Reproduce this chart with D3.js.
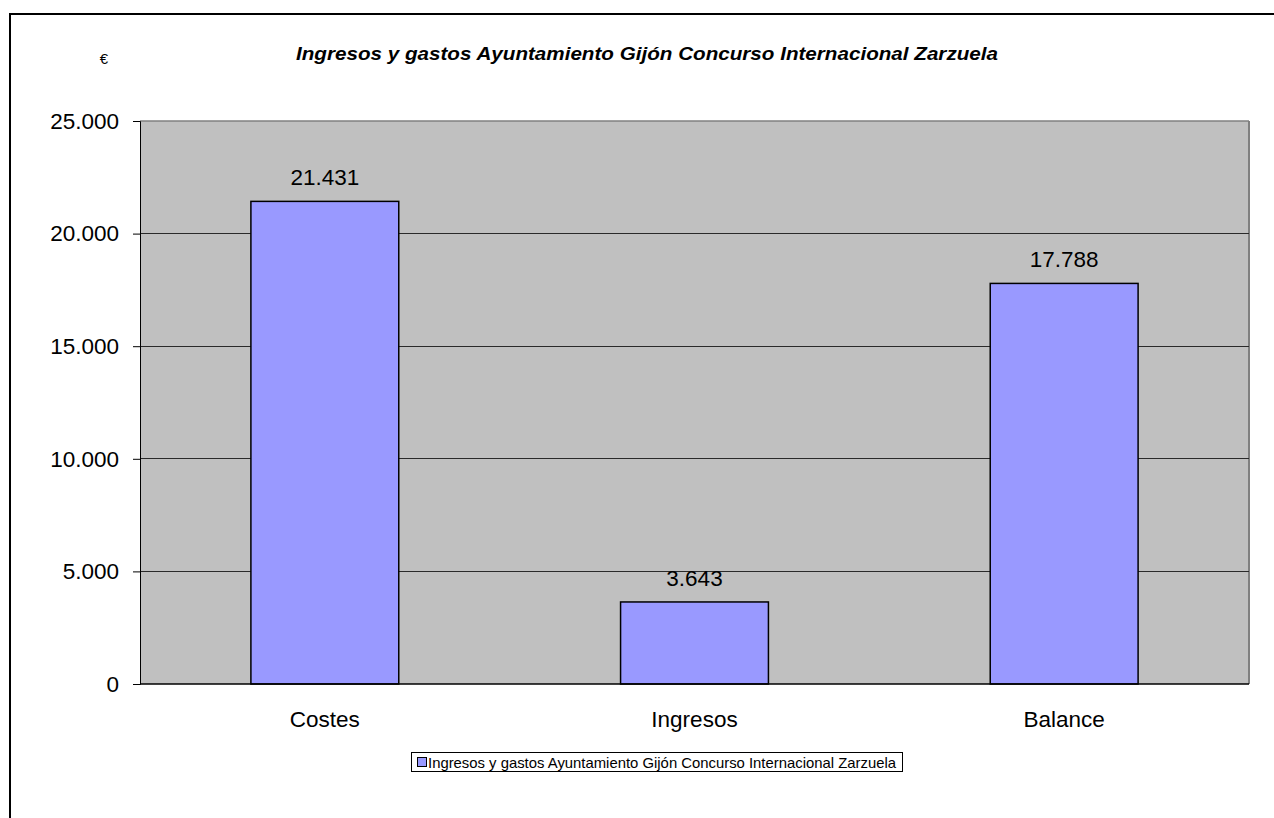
<!DOCTYPE html>
<html><head><meta charset="utf-8">
<script src="https://cdn.jsdelivr.net/npm/d3@7"></script>
<style>body{margin:0;background:#fff}svg{display:block}text{font-family:Arial,"Liberation Sans",sans-serif}</style>
</head><body>
<svg id="c" width="1274" height="818"></svg>
<script>
const categories = ["Costes", "Ingresos", "Balance"];
const values = [21431, 3643, 17788];
const valueLabels = ["21.431", "3.643", "17.788"];
const yTicks = [0, 5000, 10000, 15000, 20000, 25000];
const yTickLabels = ["0", "5.000", "10.000", "15.000", "20.000", "25.000"];
const seriesName = "Ingresos y gastos Ayuntamiento Gijón Concurso Internacional Zarzuela";
const titleText = "Ingresos y gastos Ayuntamiento Gijón Concurso Internacional Zarzuela";
const unitText = "€";

const svg = d3.select("#c");
const L = 140, R = 1249, T = 121, B = 684;

// outer frame
svg.append("rect").attr("x", 10).attr("y", 14).attr("width", 1400).attr("height", 1000)
  .attr("fill", "#fff").attr("stroke", "#000").attr("stroke-width", 2);

const x = d3.scaleBand().domain(categories).range([L, R]).paddingInner(0.6).paddingOuter(0.3);
const y = d3.scaleLinear().domain([0, 25000]).range([B, T]);

// plot area
svg.append("rect").attr("x", L).attr("y", T).attr("width", R - L).attr("height", B - T)
  .attr("fill", "#c0c0c0");
svg.append("path").attr("d", `M${L},${T}H${R}`).attr("stroke", "#808080").attr("stroke-width", 1.5).attr("fill","none");
svg.append("path").attr("d", `M${R},${T}V${B}`).attr("stroke", "#808080").attr("stroke-width", 2).attr("fill","none");

// gridlines
svg.append("g").selectAll("line").data(yTicks.filter(d => d > 0 && d < 25000)).join("line")
  .attr("x1", L).attr("x2", R).attr("y1", d => y(d)).attr("y2", d => y(d))
  .attr("stroke", "#2a2a2a").attr("stroke-width", 1).attr("shape-rendering", "crispEdges");

// y axis
const yAxis = d3.axisLeft(y).tickValues(yTicks).tickSize(7).tickPadding(14)
  .tickFormat((d, i) => yTickLabels[i]);
const ga = svg.append("g").attr("transform", `translate(${L},0)`).call(yAxis);
ga.select(".domain").attr("stroke", "#000");
ga.selectAll(".tick line").attr("stroke", "#000");
ga.selectAll(".tick text").attr("font-size", 22.5).attr("fill", "#000").style("font-family", "Arial, 'Liberation Sans', sans-serif");

// bars
svg.append("g").selectAll("rect").data(values).join("rect")
  .attr("x", (d, i) => x(categories[i])).attr("width", x.bandwidth())
  .attr("y", d => y(d)).attr("height", d => B - y(d))
  .attr("fill", "#9999ff").attr("stroke", "#000").attr("stroke-width", 1.5);

// x baseline
svg.append("line").attr("x1", L).attr("x2", R).attr("y1", B).attr("y2", B).attr("stroke", "#000").attr("stroke-width", 1.5);

// value labels
svg.append("g").selectAll("text").data(values).join("text")
  .attr("x", (d, i) => x(categories[i]) + x.bandwidth() / 2).attr("y", d => y(d) - 16)
  .attr("text-anchor", "middle").attr("font-size", 22.5).text((d, i) => valueLabels[i]);

// category labels
svg.append("g").selectAll("text").data(categories).join("text")
  .attr("x", d => x(d) + x.bandwidth() / 2).attr("y", 727)
  .attr("text-anchor", "middle").attr("font-size", 22.5).text(d => d);

// title
svg.append("text").attr("x", 647).attr("y", 60).attr("text-anchor", "middle")
  .attr("font-size", 17.5).attr("font-weight", "bold").attr("font-style", "italic")
  .attr("textLength", 702).attr("lengthAdjust", "spacingAndGlyphs").text(titleText);
svg.append("text").attr("x", 104).attr("y", 64).attr("text-anchor", "middle")
  .attr("font-size", 15).text(unitText);

// legend
const lg = svg.append("g");
lg.append("rect").attr("x", 411.5).attr("y", 752.5).attr("width", 491).attr("height", 19)
  .attr("fill", "#fff").attr("stroke", "#000").attr("stroke-width", 1);
lg.append("rect").attr("x", 417.5).attr("y", 757.5).attr("width", 9).attr("height", 9)
  .attr("fill", "#9999ff").attr("stroke", "#000").attr("stroke-width", 1);
lg.append("text").attr("x", 428).attr("y", 768).attr("font-size", 15)
  .attr("textLength", 468).attr("lengthAdjust", "spacingAndGlyphs").text(seriesName);
</script>
</body></html>
